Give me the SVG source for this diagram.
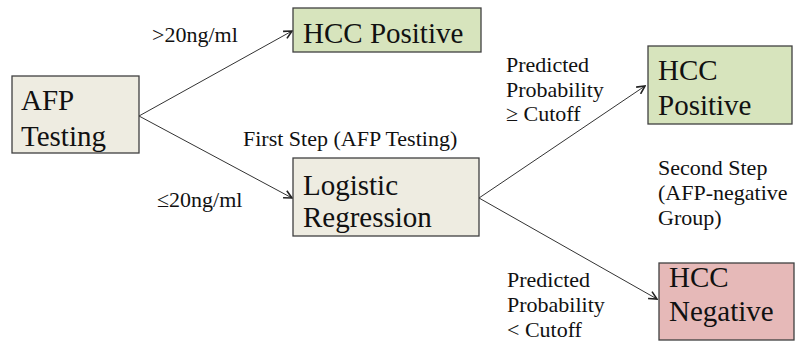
<svg xmlns="http://www.w3.org/2000/svg" width="795" height="344" viewBox="0 0 795 344">
<style>
.box{stroke:#404040;stroke-width:1.3}
.beige{fill:#EEECE1}
.green{fill:#D7E4BD}
.pink{fill:#E6B9B8}
text{font-family:'Liberation Serif','Times New Roman','DejaVu Serif',serif;fill:#111}
.big{font-size:29px}
.sm{font-size:22px}
.conn{stroke:#333;stroke-width:1;fill:none;marker-end:url(#arr)}
</style>
<defs>
<marker id="arr" viewBox="0 0 10 10" refX="9" refY="5" markerWidth="10" markerHeight="10" markerUnits="userSpaceOnUse" orient="auto">
<path d="M1,1 L9,5 L1,9" fill="none" stroke="#222" stroke-width="1.6"/>
</marker>
</defs>
<rect width="795" height="344" fill="#fff"/>
<g id="connectors">
<line class="conn" x1="139" y1="116" x2="292" y2="31"/>
<line class="conn" x1="139" y1="116" x2="292" y2="198"/>
<line class="conn" x1="479" y1="198" x2="645" y2="86"/>
<line class="conn" x1="479" y1="198" x2="657" y2="299"/>
</g>
<g id="afp">
<rect class="box beige" x="12" y="76" width="127" height="77"/>
<text class="big" x="21" y="110">AFP</text>
<text class="big" x="21" y="146">Testing</text>
</g>
<g id="hcc-pos-1">
<rect class="box green" x="293" y="8" width="188" height="44"/>
<text class="big" x="303" y="43">HCC Positive</text>
</g>
<g id="logistic">
<rect class="box beige" x="293" y="158" width="186" height="78"/>
<text class="big" x="303" y="195">Logistic</text>
<text class="big" x="303" y="227">Regression</text>
</g>
<g id="hcc-pos-2">
<rect class="box green" x="648" y="46" width="144" height="78"/>
<text class="big" x="658" y="80">HCC</text>
<text class="big" x="658" y="115">Positive</text>
</g>
<g id="hcc-neg">
<rect class="box pink" x="659" y="263" width="135" height="77"/>
<text class="big" x="669" y="287">HCC</text>
<text class="big" x="669" y="321">Negative</text>
</g>
<g id="labels">
<text class="sm" x="152" y="42">&gt;20ng/ml</text>
<text class="sm" x="157" y="207">≤20ng/ml</text>
<text class="sm" x="243" y="146">First Step (AFP Testing)</text>
<text class="sm" x="506" y="72">Predicted</text>
<text class="sm" x="506" y="97">Probability</text>
<text class="sm" x="506" y="121">≥ Cutoff</text>
<text class="sm" x="658" y="175">Second Step</text>
<text class="sm" x="658" y="200">(AFP-negative</text>
<text class="sm" x="658" y="225">Group)</text>
<text class="sm" x="507" y="287">Predicted</text>
<text class="sm" x="507" y="312">Probability</text>
<text class="sm" x="507" y="337">&lt; Cutoff</text>
</g>
</svg>
